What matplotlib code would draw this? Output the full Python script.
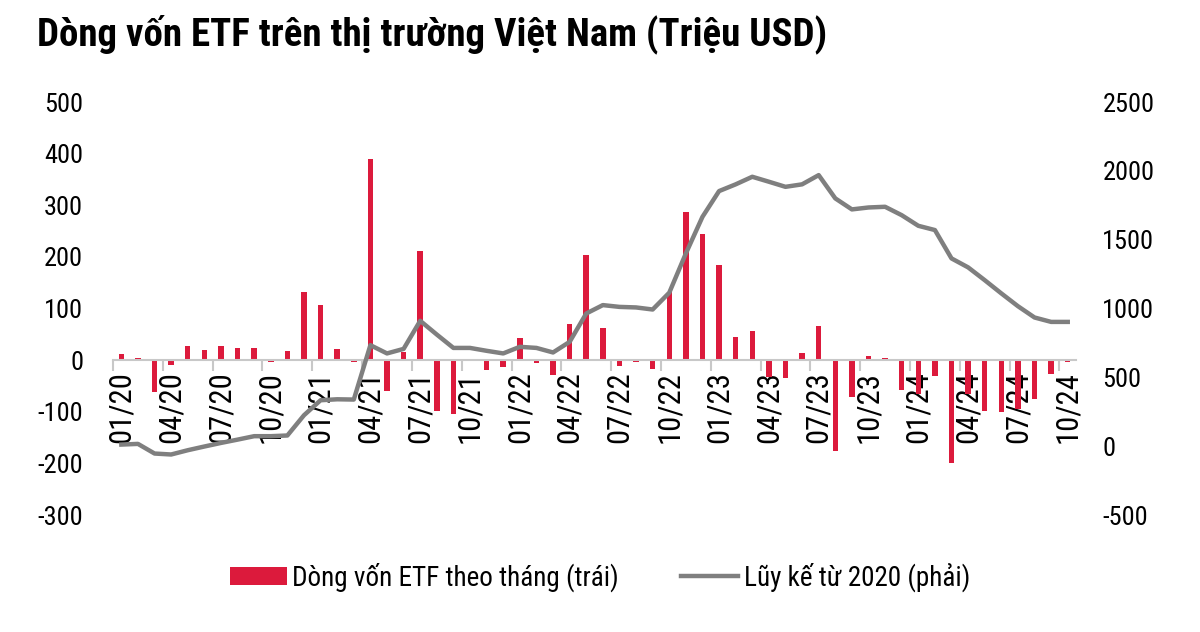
import matplotlib
matplotlib.use("Agg")
import matplotlib.pyplot as plt
from matplotlib import font_manager
from matplotlib.patches import Patch
from matplotlib.lines import Line2D

# pick a narrow sans if one is installed
narrow_stretch = ('condensed', 'semi-condensed', 'extra-condensed', 'ultra-condensed')
main_font, stretch = "Liberation Sans", "normal"
for fam in ["Liberation Sans Narrow", "Roboto Condensed", "Open Sans Condensed",
            "Noto Sans Condensed", "Roboto", "Noto Sans", "Open Sans", "DejaVu Sans"]:
    hits = [f for f in font_manager.fontManager.ttflist if f.name == fam]
    cond = [f for f in hits if str(f.stretch) in narrow_stretch]
    if hits and ("Narrow" in fam or "Condensed" in fam):
        main_font = fam
        break
    if cond:
        main_font, stretch = fam, str(cond[0].stretch)
        break
plt.rcParams['font.family'] = [main_font, 'DejaVu Sans']
plt.rcParams['font.stretch'] = stretch

title = "Dòng vốn ETF trên thị trường Việt Nam (Triệu USD)"
bar_label = "Dòng vốn ETF theo tháng (trái)"
line_label = "Lũy kế từ 2020 (phải)"

months = [f"{m:02d}/{y}" for y in range(20, 25) for m in range(1, 13)][:58]

# monthly ETF flows, million USD (left axis)
flows = [12, 5, -62, -10, 28, 19, 28, 24, 24, -4, 18, 133,
         106, 21, -4, 390, -59, 16, 211, -99, -105, 0, -19, -13,
         42, -6, -29, 70, 203, 63, -11, -3, -17, 132, 287, 244,
         184, 45, 57, -32, -34, 14, 66, -176, -71, 9, 4, -58,
         -65, -31, -199, -65, -98, -100, -94, -76, -26, -3]

# cumulative since 2020 (right axis)
cumulative = [12, 17, -53, -60, -29, -2, 24, 48, 73, 73, 78, 225,
              334, 341, 339, 734, 674, 707, 911, 811, 714, 714, 693, 674,
              722, 714, 681, 758, 964, 1025, 1012, 1008, 993, 1115, 1400, 1666,
              1853, 1902, 1957, 1921, 1884, 1902, 1969, 1800, 1720, 1734, 1739, 1678,
              1601, 1570, 1364, 1299, 1206, 1110, 1017, 935, 903, 903]

left_ticks = [-300, -200, -100, 0, 100, 200, 300, 400, 500]
right_ticks = [-500, 0, 500, 1000, 1500, 2000, 2500]

red = "#DC1A3C"
gray = "#7F7F7F"

fig = plt.figure(figsize=(12, 6.32), dpi=100)
ax = fig.add_axes([0.0942, 0.185, 0.8025, 0.6536])
ax2 = ax.twinx()

x = list(range(len(flows)))
ax.bar(x, flows, width=0.33, color=red, zorder=2)
ax2.plot(x, cumulative, color=gray, lw=3.2, solid_joinstyle='round', zorder=3)

ax.set_xlim(-0.5, len(flows) - 0.5)
ax.set_ylim(-300, 500)
ax2.set_ylim(-500, 2500)
ax.set_yticks(left_ticks)
ax.set_yticklabels([str(v) for v in left_ticks])
ax2.set_yticks(right_ticks)
ax2.set_yticklabels([str(v) for v in right_ticks])
ax.tick_params(axis='y', length=0, labelsize=19, pad=21.5)
ax2.tick_params(axis='y', length=0, labelsize=19, pad=19)

for a in (ax, ax2):
    for s in ('top', 'right', 'left'):
        a.spines[s].set_visible(False)
ax2.spines['bottom'].set_visible(False)
ax.spines['bottom'].set_position(('data', 0))
ax.spines['bottom'].set_color("#C8C8C8")
ax.spines['bottom'].set_linewidth(1.5)

# ticks between month groups, labels at month centres
ax.set_xticks([i - 0.5 for i in range(0, len(flows), 3)])
ax.set_xticklabels([])
ax.tick_params(axis='x', which='major', direction='out', length=8, width=1.5, color="#C8C8C8")
ax.set_xticks(list(range(0, len(flows), 3)), minor=True)
ax.set_xticklabels(months[::3], minor=True, rotation=90, fontsize=22)
ax.tick_params(axis='x', which='minor', length=0, pad=8)

fig.text(0.031, 0.946, title, fontsize=28, fontweight='bold', va='center', ha='left')

handles = [Patch(facecolor=red, label=bar_label),
           Line2D([0], [0], color=gray, lw=3.2, label=line_label)]
fig.legend(handles=handles, loc='center', bbox_to_anchor=(0.5, 0.087), ncol=2,
           frameon=False, fontsize=19.5, handlelength=2.1, handleheight=0.65,
           handletextpad=0.2, columnspacing=2.3)

fig.savefig("out.png", dpi=100)
